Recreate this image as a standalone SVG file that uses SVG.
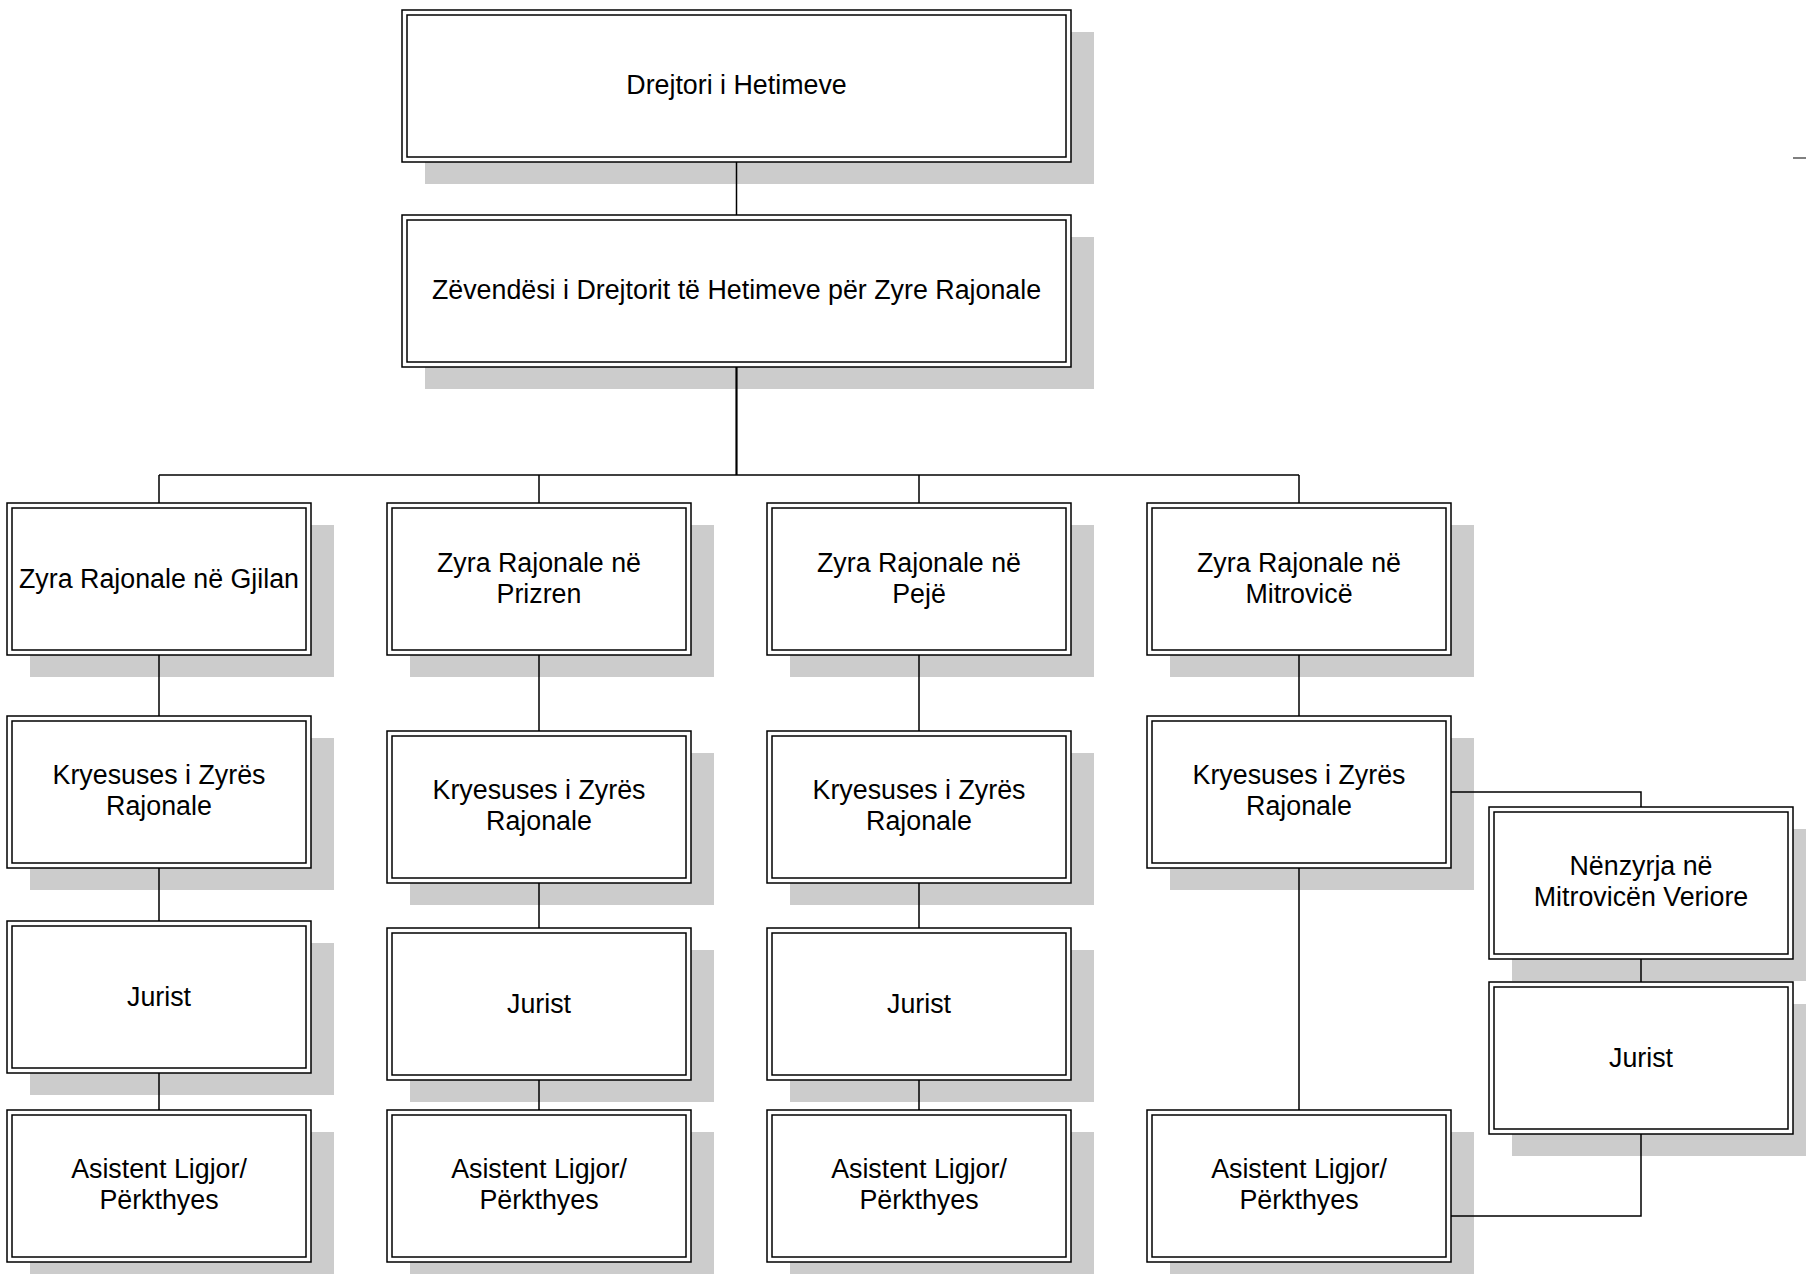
<svg xmlns="http://www.w3.org/2000/svg" width="1806" height="1274" viewBox="0 0 1806 1274">
<style>
.bg{fill:#ffffff}
.shadow{fill:#cccccc}
.outer{fill:#ffffff;stroke:#000;stroke-width:1.5}
.inner{fill:none;stroke:#000;stroke-width:1.5}
.lbl{font-family:"Liberation Sans",Arial,sans-serif;font-size:26.8px;text-anchor:middle;fill:#000}
.conn{fill:none;stroke:#000;stroke-width:1.5}
.trunk{fill:none;stroke:#000;stroke-width:2.2}
</style>
<rect class="bg" x="0" y="0" width="1806" height="1274"/>

<g id="n-drejtori">
<rect class="shadow" x="425" y="32" width="669" height="152"/>
<rect class="outer" x="402" y="10" width="669" height="152"/>
<rect class="inner" x="407" y="15" width="659" height="142"/>
<text class="lbl" x="736.5" y="94">Drejtori i Hetimeve</text>
</g>
<g id="n-zevendesi">
<rect class="shadow" x="425" y="237" width="669" height="152"/>
<rect class="outer" x="402" y="215" width="669" height="152"/>
<rect class="inner" x="407" y="220" width="659" height="142"/>
<text class="lbl" x="736.5" y="299">Zëvendësi i Drejtorit të Hetimeve për Zyre Rajonale</text>
</g>

<!-- Gjilan column -->
<g id="n-gjilan">
<rect class="shadow" x="30" y="525" width="304" height="152"/>
<rect class="outer" x="7" y="503" width="304" height="152"/>
<rect class="inner" x="12" y="508" width="294" height="142"/>
<text class="lbl" x="159" y="588">Zyra Rajonale në Gjilan</text>
</g>
<g id="n-gjilan-kryesuses">
<rect class="shadow" x="30" y="738" width="304" height="152"/>
<rect class="outer" x="7" y="716" width="304" height="152"/>
<rect class="inner" x="12" y="721" width="294" height="142"/>
<text class="lbl" x="159" y="784">Kryesuses i Zyrës</text>
<text class="lbl" x="159" y="815">Rajonale</text>
</g>
<g id="n-gjilan-jurist">
<rect class="shadow" x="30" y="943" width="304" height="152"/>
<rect class="outer" x="7" y="921" width="304" height="152"/>
<rect class="inner" x="12" y="926" width="294" height="142"/>
<text class="lbl" x="159" y="1006">Jurist</text>
</g>
<g id="n-gjilan-asistent">
<rect class="shadow" x="30" y="1132" width="304" height="152"/>
<rect class="outer" x="7" y="1110" width="304" height="152"/>
<rect class="inner" x="12" y="1115" width="294" height="142"/>
<text class="lbl" x="159" y="1178">Asistent Ligjor/</text>
<text class="lbl" x="159" y="1209">Përkthyes</text>
</g>

<!-- Prizren column -->
<g id="n-prizren">
<rect class="shadow" x="410" y="525" width="304" height="152"/>
<rect class="outer" x="387" y="503" width="304" height="152"/>
<rect class="inner" x="392" y="508" width="294" height="142"/>
<text class="lbl" x="539" y="572">Zyra Rajonale në</text>
<text class="lbl" x="539" y="603">Prizren</text>
</g>
<g id="n-prizren-kryesuses">
<rect class="shadow" x="410" y="753" width="304" height="152"/>
<rect class="outer" x="387" y="731" width="304" height="152"/>
<rect class="inner" x="392" y="736" width="294" height="142"/>
<text class="lbl" x="539" y="799">Kryesuses i Zyrës</text>
<text class="lbl" x="539" y="830">Rajonale</text>
</g>
<g id="n-prizren-jurist">
<rect class="shadow" x="410" y="950" width="304" height="152"/>
<rect class="outer" x="387" y="928" width="304" height="152"/>
<rect class="inner" x="392" y="933" width="294" height="142"/>
<text class="lbl" x="539" y="1013">Jurist</text>
</g>
<g id="n-prizren-asistent">
<rect class="shadow" x="410" y="1132" width="304" height="152"/>
<rect class="outer" x="387" y="1110" width="304" height="152"/>
<rect class="inner" x="392" y="1115" width="294" height="142"/>
<text class="lbl" x="539" y="1178">Asistent Ligjor/</text>
<text class="lbl" x="539" y="1209">Përkthyes</text>
</g>

<!-- Peja column -->
<g id="n-peje">
<rect class="shadow" x="790" y="525" width="304" height="152"/>
<rect class="outer" x="767" y="503" width="304" height="152"/>
<rect class="inner" x="772" y="508" width="294" height="142"/>
<text class="lbl" x="919" y="572">Zyra Rajonale në</text>
<text class="lbl" x="919" y="603">Pejë</text>
</g>
<g id="n-peje-kryesuses">
<rect class="shadow" x="790" y="753" width="304" height="152"/>
<rect class="outer" x="767" y="731" width="304" height="152"/>
<rect class="inner" x="772" y="736" width="294" height="142"/>
<text class="lbl" x="919" y="799">Kryesuses i Zyrës</text>
<text class="lbl" x="919" y="830">Rajonale</text>
</g>
<g id="n-peje-jurist">
<rect class="shadow" x="790" y="950" width="304" height="152"/>
<rect class="outer" x="767" y="928" width="304" height="152"/>
<rect class="inner" x="772" y="933" width="294" height="142"/>
<text class="lbl" x="919" y="1013">Jurist</text>
</g>
<g id="n-peje-asistent">
<rect class="shadow" x="790" y="1132" width="304" height="152"/>
<rect class="outer" x="767" y="1110" width="304" height="152"/>
<rect class="inner" x="772" y="1115" width="294" height="142"/>
<text class="lbl" x="919" y="1178">Asistent Ligjor/</text>
<text class="lbl" x="919" y="1209">Përkthyes</text>
</g>

<!-- Mitrovica column -->
<g id="n-mitrovice">
<rect class="shadow" x="1170" y="525" width="304" height="152"/>
<rect class="outer" x="1147" y="503" width="304" height="152"/>
<rect class="inner" x="1152" y="508" width="294" height="142"/>
<text class="lbl" x="1299" y="572">Zyra Rajonale në</text>
<text class="lbl" x="1299" y="603">Mitrovicë</text>
</g>
<g id="n-mitrovice-kryesuses">
<rect class="shadow" x="1170" y="738" width="304" height="152"/>
<rect class="outer" x="1147" y="716" width="304" height="152"/>
<rect class="inner" x="1152" y="721" width="294" height="142"/>
<text class="lbl" x="1299" y="784">Kryesuses i Zyrës</text>
<text class="lbl" x="1299" y="815">Rajonale</text>
</g>
<g id="n-mitrovice-asistent">
<rect class="shadow" x="1170" y="1132" width="304" height="152"/>
<rect class="outer" x="1147" y="1110" width="304" height="152"/>
<rect class="inner" x="1152" y="1115" width="294" height="142"/>
<text class="lbl" x="1299" y="1178">Asistent Ligjor/</text>
<text class="lbl" x="1299" y="1209">Përkthyes</text>
</g>
<g id="n-nenzyrja">
<rect class="shadow" x="1512" y="829" width="304" height="152"/>
<rect class="outer" x="1489" y="807" width="304" height="152"/>
<rect class="inner" x="1494" y="812" width="294" height="142"/>
<text class="lbl" x="1641" y="875">Nënzyrja në</text>
<text class="lbl" x="1641" y="906">Mitrovicën Veriore</text>
</g>
<g id="n-nenzyrja-jurist">
<rect class="shadow" x="1512" y="1004" width="304" height="152"/>
<rect class="outer" x="1489" y="982" width="304" height="152"/>
<rect class="inner" x="1494" y="987" width="294" height="142"/>
<text class="lbl" x="1641" y="1067">Jurist</text>
</g>

<g id="connectors">
<path class="conn" d="M736.5,162 V215"/>
<path class="trunk" d="M736.5,367 V475"/>
<path class="conn" d="M159,475 H1299"/>
<path class="conn" d="M159,475 V503 M539,475 V503 M919,475 V503 M1299,475 V503"/>
<path class="conn" d="M159,655 V716 M159,868 V921 M159,1073 V1110"/>
<path class="conn" d="M539,655 V731 M539,883 V928 M539,1080 V1110"/>
<path class="conn" d="M919,655 V731 M919,883 V928 M919,1080 V1110"/>
<path class="conn" d="M1299,655 V716 M1299,868 V1110"/>
<path class="conn" d="M1451,792 H1641 V807"/>
<path class="conn" d="M1641,959 V982"/>
<path class="conn" d="M1641,1134 V1216 H1451"/>
</g>
<path d="M1793,158 H1806" stroke="#808080" stroke-width="2" fill="none"/>
</svg>
